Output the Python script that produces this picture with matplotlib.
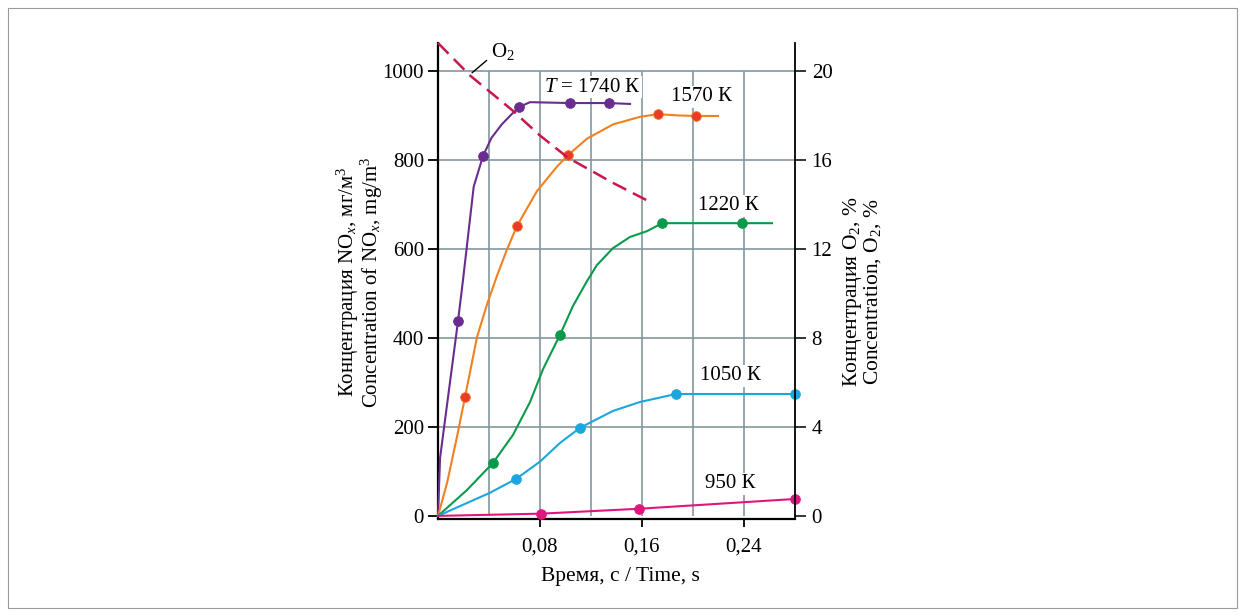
import matplotlib
matplotlib.use("Agg")
import matplotlib.pyplot as plt
from matplotlib.patches import Rectangle

plt.rcParams["font.family"] = ["Liberation Serif", "DejaVu Serif"]
plt.rcParams["mathtext.fontset"] = "custom"
plt.rcParams["mathtext.rm"] = "Liberation Serif"
plt.rcParams["mathtext.it"] = "Liberation Serif:italic"

# NOx curves, mg/m3 vs time, s (line path and measured points)
t1740 = [0, 0.0016, 0.0157, 0.0196, 0.0280, 0.0353, 0.0420, 0.0500, 0.0588, 0.0635, 0.0722, 0.1035, 0.1341, 0.1506]
n1740 = [0, 130, 438, 530, 740, 809, 850, 880, 906, 919, 930, 928, 928, 926]
t1740_pts = [0.0157, 0.0353, 0.0635, 0.1035, 0.1341]
n1740_pts = [438, 809, 919, 928, 928]

t1570 = [0, 0.0071, 0.0149, 0.0212, 0.0306, 0.0384, 0.0463, 0.0540, 0.062, 0.0776, 0.0933, 0.102,
         0.1169, 0.1373, 0.1584, 0.1725, 0.1898, 0.2024, 0.2196]
n1570 = [0, 74, 178, 267, 402, 475, 540, 598, 652, 730, 785, 811, 848, 880, 897, 903, 900, 899, 899]
t1570_pts = [0.0212, 0.062, 0.102, 0.1725, 0.2024]
n1570_pts = [267, 652, 811, 903, 899]

t1220 = [0, 0.0227, 0.0431, 0.0588, 0.0722, 0.0824, 0.0957, 0.1059, 0.1169, 0.1247, 0.1373, 0.1506,
         0.1639, 0.1757, 0.2384, 0.262]
n1220 = [0, 58, 119, 182, 256, 330, 407, 472, 528, 564, 602, 627, 640, 658, 658, 658]
t1220_pts = [0.0431, 0.0957, 0.1757, 0.2384]
n1220_pts = [119, 407, 658, 658]

t1050 = [0, 0.0408, 0.0612, 0.08, 0.0957, 0.1114, 0.1373, 0.1584, 0.1867, 0.28]
n1050 = [0, 52, 83, 122, 164, 198, 236, 256, 274, 274]
t1050_pts = [0.0612, 0.1114, 0.1867, 0.28]
n1050_pts = [83, 198, 274, 274]

t950 = [0, 0.0808, 0.1576, 0.28]
n950 = [0, 5, 16, 38]
t950_pts = [0.0808, 0.1576, 0.28]
n950_pts = [5, 16, 38]

# O2 concentration, %
t_o2 = [0, 0.0251, 0.058, 0.08, 0.102, 0.1373, 0.1678]
o2 = [21.26, 19.8, 18.25, 17.1, 16.1, 14.97, 14.07]

x_ticks = [0.08, 0.16, 0.24]
x_ticklabels = ["0,08", "0,16", "0,24"]
y_ticks = [0, 200, 400, 600, 800, 1000]
y2_ticks = [0, 4, 8, 12, 16, 20]

fig = plt.figure(figsize=(12.45, 6.16), dpi=100)
ax = fig.add_axes([438 / 1245, 97 / 616, 357 / 1245, 476 / 616])
ymin, ymax = -7, 1063
ax.set_xlim(0, 0.28)
ax.set_ylim(ymin, ymax)

grid_c = "#8398a0"
ax.hlines(y_ticks[1:], 0, 0.28, color=grid_c, lw=1.2, zorder=1)
ax.vlines([0.04 * i for i in range(1, 7)], 0, 1000, color=grid_c, lw=1.2, zorder=1)

series = [
    (t1740, n1740, t1740_pts, n1740_pts, "#6a2c8e", "#6a2c8e"),
    (t1570, n1570, t1570_pts, n1570_pts, "#f08020", "#ea3a28"),
    (t1220, n1220, t1220_pts, n1220_pts, "#0b9a4c", "#0b9a4c"),
    (t1050, n1050, t1050_pts, n1050_pts, "#1ba6de", "#1ba6de"),
    (t950, n950, t950_pts, n950_pts, "#e0167e", "#e0167e"),
]
for tx, ny, tp, npnt, lc, mc in series:
    ax.plot(tx, ny, color=lc, lw=1.5, zorder=3, clip_on=False)
    ax.plot(tp, npnt, "o", color=mc, mec=lc, mew=0.6, ms=7, zorder=4, clip_on=False)

box = dict(facecolor="white", edgecolor="none", pad=1.0)
lab_fs = 15
ax.text(0.1208, 964, "$T$ = 1740 К", fontsize=lab_fs, ha="center", va="center", bbox=box, zorder=2)
ax.text(0.207, 942, "1570 К", fontsize=lab_fs, ha="center", va="center", bbox=box, zorder=2)
ax.text(0.2275, 697, "1220 К", fontsize=lab_fs, ha="center", va="center", bbox=box, zorder=2)
ax.text(0.229, 315, "1050 К", fontsize=lab_fs, ha="center", va="center", bbox=box, zorder=2)
ax.text(0.229, 72, "950 К", fontsize=lab_fs, ha="center", va="center", bbox=box, zorder=2)

ax.spines["top"].set_visible(False)
ax.spines["right"].set_visible(False)
ax.spines["left"].set_linewidth(1.6)
ax.spines["bottom"].set_linewidth(1.6)
ax.set_xticks(x_ticks)
ax.set_xticklabels(x_ticklabels)
ax.set_yticks(y_ticks)
ax.tick_params(axis="y", direction="out", length=7, width=1.3, labelsize=15, pad=3)
ax.tick_params(axis="x", direction="out", length=6, width=1.3, labelsize=15, pad=7)

ax2 = ax.twinx()
ax2.set_ylim(ymin / 50, ymax / 50)
ax2.plot(t_o2, o2, color="#c8174a", lw=1.8, dashes=(6, 3), zorder=5, clip_on=False)
ax2.set_yticks(y2_ticks)
ax2.tick_params(axis="y", direction="out", length=8, width=1.1, labelsize=15, pad=4)
for s in ["top", "left", "bottom"]:
    ax2.spines[s].set_visible(False)
ax2.spines["right"].set_linewidth(1.3)

ax.annotate("O$_2$", xy=(0.0267, 996), xytext=(0.0505, 1043), fontsize=15,
            ha="center", va="center",
            arrowprops=dict(arrowstyle="-", color="black", lw=1.0, shrinkA=1, shrinkB=0,
                            relpos=(0.0, 0.25)))

fig.text(360 / 1245, 1 - 282 / 616,
         "Концентрация NO$_{x}$, мг/м$^3$\nConcentration of NO$_{x}$, mg/m$^3$",
         rotation=90, ha="center", va="center", fontsize=15, linespacing=0.85,
         multialignment="center")
fig.text(862 / 1245, 1 - 292 / 616,
         "Концентрация O$_2$, %\nConcentration, O$_2$, %",
         rotation=90, ha="center", va="center", fontsize=15.5, linespacing=0.85,
         multialignment="center")
fig.text(620 / 1245, 1 - 577 / 616, "Время, с / Time, s", ha="center", va="center", fontsize=15.5)

fig.patches.append(Rectangle((8 / 1245, 8 / 616), 1229 / 1245, 600 / 616, transform=fig.transFigure,
                             fill=False, edgecolor="#9a9a9a", lw=0.8))

fig.savefig("out.png", dpi=100)
